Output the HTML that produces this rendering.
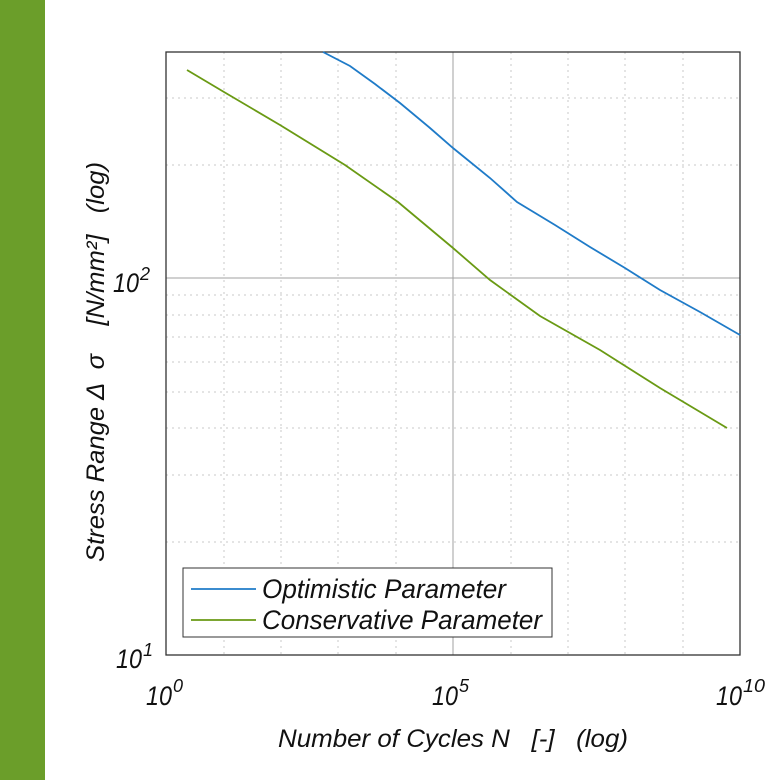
<!DOCTYPE html>
<html><head><meta charset="utf-8"><style>
body{margin:0;background:#fff;}
svg{display:block;font-family:"Liberation Sans",sans-serif;font-style:italic;}
</style></head><body>
<svg width="780" height="780" viewBox="0 0 780 780">
<rect x="0" y="0" width="45" height="780" fill="#6b9e2a"/>
<g stroke="#c8c8c8" stroke-width="1" stroke-dasharray="2,4">
<line x1="224" y1="52" x2="224" y2="655"/><line x1="281" y1="52" x2="281" y2="655"/>
<line x1="338" y1="52" x2="338" y2="655"/><line x1="396" y1="52" x2="396" y2="655"/>
<line x1="511" y1="52" x2="511" y2="655"/><line x1="568" y1="52" x2="568" y2="655"/>
<line x1="625" y1="52" x2="625" y2="655"/><line x1="683" y1="52" x2="683" y2="655"/>
<line x1="166" y1="98" x2="740" y2="98"/><line x1="166" y1="165" x2="740" y2="165"/>
<line x1="166" y1="295" x2="740" y2="295"/><line x1="166" y1="315" x2="740" y2="315"/>
<line x1="166" y1="337" x2="740" y2="337"/><line x1="166" y1="362" x2="740" y2="362"/>
<line x1="166" y1="392" x2="740" y2="392"/><line x1="166" y1="428" x2="740" y2="428"/>
<line x1="166" y1="475" x2="740" y2="475"/><line x1="166" y1="542" x2="740" y2="542"/>
</g>
<g stroke="#a0a0a0" stroke-width="1">
<line x1="453" y1="52" x2="453" y2="655"/><line x1="166" y1="278" x2="740" y2="278"/>
</g>
<rect x="166" y="52" width="574" height="603" fill="none" stroke="#333" stroke-width="1.3"/>
<polyline fill="none" stroke="#1f7bc8" stroke-width="1.8" points="323,52 350,66 375,84 400,103 430,128 453,148 490,178 517,202 555,225 590,247 625,268 660,290 700,312 740,335"/>
<polyline fill="none" stroke="#6a9a14" stroke-width="1.8" points="187,70 224,92 280,125 345,165 398,202 453,248 490,280 540,316 600,350 660,388 727,428"/>
<rect x="183" y="568" width="369" height="69" fill="#fff" stroke="#333" stroke-width="1"/>
<line x1="191" y1="589" x2="256" y2="589" stroke="#1f7bc8" stroke-width="1.8"/>
<line x1="191" y1="620" x2="256" y2="620" stroke="#6a9a14" stroke-width="1.8"/>
<text x="262" y="598" font-size="27" fill="#111" textLength="244" lengthAdjust="spacingAndGlyphs">Optimistic Parameter</text>
<text x="262" y="629" font-size="27" fill="#111" textLength="280" lengthAdjust="spacingAndGlyphs">Conservative Parameter</text>
<g font-size="27" fill="#111">
<text x="116" y="668" textLength="26" lengthAdjust="spacingAndGlyphs">10</text><text x="143" y="656" font-size="18">1</text>
<text x="113" y="292" textLength="26" lengthAdjust="spacingAndGlyphs">10</text><text x="140" y="280" font-size="18">2</text>
<text x="146" y="705" textLength="26" lengthAdjust="spacingAndGlyphs">10</text><text x="173" y="692" font-size="18">0</text>
<text x="432" y="705" textLength="26" lengthAdjust="spacingAndGlyphs">10</text><text x="459" y="692" font-size="18">5</text>
<text x="716" y="705" textLength="26" lengthAdjust="spacingAndGlyphs">10</text><text x="743" y="692" font-size="18" textLength="22" lengthAdjust="spacingAndGlyphs">10</text>
</g>
<text x="278" y="747" font-size="25" fill="#111" textLength="350" lengthAdjust="spacingAndGlyphs" xml:space="preserve">Number of Cycles N   [-]   (log)</text>
<text transform="translate(104,562) rotate(-90)" font-size="25" fill="#111" textLength="400" lengthAdjust="spacingAndGlyphs" xml:space="preserve">Stress Range Δ  σ    [N/mm²]   (log)</text>
</svg>
</body></html>
